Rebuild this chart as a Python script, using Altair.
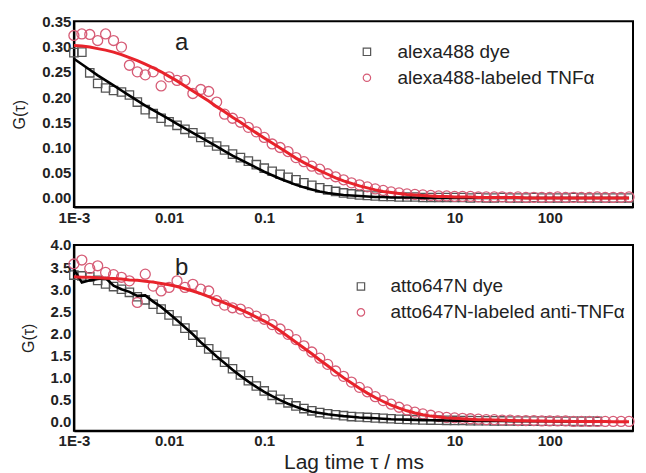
import altair as alt
import pandas as pd

# Lag times (ms), quasi-logarithmic correlator channels
tau = [0.001, 0.001212, 0.001468, 0.001778, 0.002154, 0.00261, 0.003162, 0.003831, 0.004642, 0.005623, 0.006813, 0.008254,
       0.01, 0.01212, 0.01468, 0.01778, 0.02154, 0.0261, 0.03162, 0.03831, 0.04642, 0.05623, 0.06813, 0.08254,
       0.1, 0.1212, 0.1468, 0.1778, 0.2154, 0.261, 0.3162, 0.3831, 0.4642, 0.5623, 0.6813, 0.8254,
       1.0, 1.212, 1.468, 1.778, 2.154, 2.61, 3.162, 3.831, 4.642, 5.623, 6.813, 8.254,
       10.0, 12.12, 14.68, 17.78, 21.54, 26.1, 31.62, 38.31, 46.42, 56.23, 68.13, 82.54,
       100.0, 121.2, 146.8, 177.8, 215.4, 261.0, 316.2, 383.1, 464.2, 562.3, 681.3]

# Panel a
a_dye_pts = [0.288, 0.289, 0.248, 0.227, 0.218, 0.213, 0.210, 0.204, 0.190, 0.175, 0.167, 0.158,
             0.151, 0.144, 0.136, 0.129, 0.120, 0.111, 0.103, 0.095, 0.087, 0.080, 0.073, 0.066,
             0.059, 0.053, 0.047, 0.041, 0.036, 0.030, 0.025, 0.020, 0.016, 0.013, 0.010, 0.008,
             0.006, 0.005, 0.004, 0.003, 0.003, 0.002, 0.002, 0.002, 0.001, 0.001, 0.001, 0.001,
             0.001, 0.001, 0.000, 0.001, 0.000, 0.000, 0.001, 0.000, 0.000, 0.000, 0.001, 0.000,
             0.000, 0.000, 0.000, 0.001, 0.000, 0.000, 0.000, 0.000, 0.000, 0.000, 0.000]
a_dye_fit = [0.276, 0.265, 0.254, 0.243, 0.233, 0.223, 0.213, 0.203, 0.193, 0.183, 0.174, 0.165,
             0.156, 0.147, 0.138, 0.129, 0.120, 0.111, 0.102, 0.093, 0.084, 0.076, 0.068, 0.060,
             0.052, 0.045, 0.038, 0.032, 0.026, 0.021, 0.017, 0.013, 0.010, 0.008, 0.006, 0.005,
             0.004, 0.003, 0.002, 0.002, 0.001, 0.001, 0.001, 0.001, 0.000, 0.000, 0.000, 0.000,
             0.000, 0.000, 0.000, 0.000, 0.000, 0.000, 0.000, 0.000, 0.000, 0.000, 0.000, 0.000,
             0.000, 0.000, 0.000, 0.000, 0.000, 0.000, 0.000, 0.000, 0.000, 0.000, 0.000]
a_tnf_pts = [0.322, 0.325, 0.324, 0.312, 0.325, 0.312, 0.299, 0.263, 0.250, 0.244, 0.250, 0.222,
             0.240, 0.233, 0.233, 0.207, 0.215, 0.211, 0.190, 0.166, 0.158, 0.150, 0.140, 0.131,
             0.120, 0.107, 0.100, 0.092, 0.080, 0.072, 0.063, 0.057, 0.048, 0.042, 0.036, 0.030,
             0.026, 0.022, 0.018, 0.015, 0.012, 0.010, 0.008, 0.007, 0.006, 0.005, 0.004, 0.004,
             0.003, 0.003, 0.003, 0.002, 0.002, 0.002, 0.002, 0.001, 0.002, 0.001, 0.001, 0.001,
             0.001, 0.002, 0.001, 0.001, 0.001, 0.001, 0.002, 0.001, 0.001, 0.001, 0.002]
a_tnf_fit = [0.302, 0.301, 0.299, 0.296, 0.293, 0.289, 0.284, 0.278, 0.272, 0.265, 0.258, 0.250,
             0.241, 0.232, 0.222, 0.212, 0.202, 0.192, 0.181, 0.171, 0.160, 0.150, 0.139, 0.129,
             0.119, 0.109, 0.099, 0.089, 0.079, 0.070, 0.062, 0.054, 0.047, 0.040, 0.034, 0.029,
             0.024, 0.020, 0.016, 0.013, 0.011, 0.009, 0.007, 0.006, 0.005, 0.004, 0.003, 0.003,
             0.002, 0.002, 0.002, 0.001, 0.001, 0.001, 0.001, 0.001, 0.001, 0.000, 0.000, 0.000,
             0.000, 0.000, 0.000, 0.000, 0.000, 0.000, 0.000, 0.000, 0.000, 0.000, 0.000]

# Panel b (dye data stop at ~316 ms)
b_dye_pts = [3.32, 3.30, 3.28, 3.20, 3.12, 3.06, 3.00, 2.93, 2.83, 2.76, 2.66, 2.55,
             2.42, 2.28, 2.12, 1.96, 1.80, 1.65, 1.50, 1.35, 1.20, 1.06, 0.93, 0.81,
             0.70, 0.60, 0.51, 0.43, 0.36, 0.30, 0.25, 0.21, 0.18, 0.16, 0.14, 0.12,
             0.11, 0.10, 0.09, 0.08, 0.07, 0.06, 0.055, 0.05, 0.045, 0.04, 0.038, 0.035,
             0.032, 0.03, 0.028, 0.026, 0.024, 0.022, 0.021, 0.02, 0.019, 0.018, 0.017, 0.016,
             0.015, 0.014, 0.013, 0.012, 0.012, 0.011, 0.010]
b_dye_line = [3.45, 3.15, 3.20, 3.23, 3.25, 3.08, 3.00, 2.94, 2.85, 2.86, 2.72, 2.60,
              2.45, 2.30, 2.14, 1.98, 1.80, 1.64, 1.48, 1.33, 1.18, 1.04, 0.91, 0.79,
              0.68, 0.58, 0.49, 0.41, 0.34, 0.28, 0.23, 0.20, 0.17, 0.15, 0.13, 0.115,
              0.10, 0.09, 0.08, 0.07, 0.06, 0.055, 0.05, 0.045, 0.04, 0.037, 0.034, 0.031,
              0.028, 0.026, 0.024, 0.022, 0.020, 0.019, 0.018, 0.017, 0.016, 0.015, 0.014, 0.013,
              0.012, 0.011, 0.010, 0.010, 0.009, 0.009, 0.008]
b_anti_pts = [3.57, 3.66, 3.47, 3.53, 3.38, 3.33, 3.27, 3.19, 2.70, 3.34, 3.07, 2.96,
              3.04, 3.19, 3.04, 3.11, 3.00, 2.96, 2.74, 2.64, 2.58, 2.55, 2.47, 2.39,
              2.32, 2.20, 2.10, 1.98, 1.86, 1.72, 1.58, 1.44, 1.30, 1.15, 1.03, 0.90,
              0.78, 0.68, 0.57, 0.48, 0.40, 0.33, 0.27, 0.22, 0.18, 0.15, 0.12, 0.10,
              0.09, 0.08, 0.07, 0.06, 0.05, 0.05, 0.04, 0.04, 0.03, 0.03, 0.03, 0.02,
              0.02, 0.02, 0.02, 0.01, 0.01, 0.01, 0.01, 0.01, 0.01, 0.01, 0.01]
b_anti_fit = [3.28, 3.27, 3.27, 3.26, 3.25, 3.24, 3.23, 3.21, 3.20, 3.18, 3.16, 3.13,
              3.10, 3.06, 3.01, 2.96, 2.90, 2.83, 2.76, 2.69, 2.62, 2.54, 2.46, 2.37,
              2.28, 2.18, 2.06, 1.93, 1.80, 1.67, 1.54, 1.40, 1.27, 1.13, 1.00, 0.88,
              0.76, 0.65, 0.55, 0.46, 0.38, 0.31, 0.25, 0.20, 0.16, 0.13, 0.11, 0.09,
              0.08, 0.07, 0.06, 0.05, 0.045, 0.04, 0.035, 0.03, 0.027, 0.024, 0.021, 0.018,
              0.016, 0.014, 0.012, 0.010, 0.009, 0.008, 0.007, 0.006, 0.005, 0.004, 0.003]

x_ticks = [0.001, 0.01, 0.1, 1, 10, 100]
a_yticks = [0.0, 0.05, 0.1, 0.15, 0.2, 0.25, 0.3, 0.35]
b_yticks = [0.0, 0.5, 1.0, 1.5, 2.0, 2.5, 3.0, 3.5, 4.0]

a_labels = ["alexa488 dye", "alexa488-labeled TNF\u03b1"]
b_labels = ["\u00a0atto647N dye", "atto647N-labeled anti-TNF\u03b1"]

FONT = "Liberation Sans"
GRAY = "#555555"
PINK = "#d65c76"
RED = "#e8232b"
W, H = 560, 186


def panel(dye_pts, dye_line, lab_pts, lab_fit, labels, ydom, yticks, yfmt, letter,
          xtitle, legx, legy, laboff, lbl_y):
    n_dye = len(dye_pts)
    dye_df = pd.DataFrame({"tau": tau[:n_dye], "G": dye_pts, "series": labels[0]})
    lab_df = pd.DataFrame({"tau": tau, "G": lab_pts, "series": labels[1]})
    dline = pd.DataFrame({"tau": tau[:len(dye_line)], "G": dye_line})
    lfit = pd.DataFrame({"tau": tau, "G": lab_fit})

    xenc = alt.X("tau:Q", scale=alt.Scale(type="log", domain=[0.001, 750], nice=False),
                 axis=alt.Axis(values=x_ticks, format="~g",
                               labelExpr="datum.value < 0.005 ? '1E-3' : datum.label",
                               ticks=False, labelPadding=3, labelFontSize=15,
                               labelFontWeight="bold", labelFont=FONT, labelColor="#222",
                               titleFont=FONT, titleFontSize=21, titleFontWeight="normal",
                               titleColor="#222", titlePadding=3, grid=False,
                               domainColor="black", domainWidth=2, labelFlush=False,
                               labelOverlap=False),
                 title=xtitle)
    yenc = alt.Y("G:Q", scale=alt.Scale(domain=ydom, nice=False, zero=False),
                 axis=alt.Axis(values=yticks, format=yfmt, ticks=False, labelPadding=3,
                               labelFontSize=15, labelFontWeight="bold", labelFont=FONT,
                               labelColor="#222", titleFont=FONT, titleFontSize=16,
                               titleFontWeight="normal", titleColor="#222", titlePadding=14,
                               grid=False, domainColor="black", domainWidth=2,
                               labelOverlap=False, labelFlush=False),
                 title="G(\u03c4)")

    leg = alt.Legend(title=None, orient="none", legendX=legx, legendY=legy,
                     labelFont=FONT, labelFontSize=19, labelColor="#222",
                     symbolSize=55, symbolStrokeWidth=1.2, symbolFillColor="transparent",
                     labelOffset=laboff, rowPadding=6, labelLimit=400)
    shp = alt.Shape("series:N", scale=alt.Scale(domain=labels, range=["square", "circle"]),
                    legend=leg)
    stk = alt.Stroke("series:N", scale=alt.Scale(domain=labels, range=[GRAY, PINK]), legend=leg)

    sq = alt.Chart(dye_df).mark_point(filled=False, strokeWidth=1.3, size=70, opacity=1,
                                      clip=False).encode(x=xenc, y=yenc, shape=shp, stroke=stk)
    ci = alt.Chart(lab_df).mark_point(filled=False, strokeWidth=1.3, size=100, opacity=1,
                                      clip=False).encode(x=xenc, y=yenc, shape=shp, stroke=stk)
    black = alt.Chart(dline).mark_line(color="black", strokeWidth=2.6).encode(x=xenc, y=yenc)
    red = alt.Chart(lfit).mark_line(color=RED, strokeWidth=3).encode(x=xenc, y=yenc)
    lbl = alt.Chart(pd.DataFrame({"t": [letter]})).mark_text(
        font=FONT, fontSize=24, color="#222", align="center", baseline="middle"
    ).encode(text="t:N", x=alt.value(108), y=alt.value(lbl_y))

    return alt.layer(sq, ci, black, red, lbl).properties(width=W, height=H)


pa = panel(a_dye_pts, a_dye_fit, a_tnf_pts, a_tnf_fit, a_labels, [-0.018, 0.35], a_yticks,
           ".2f", "a", None, 284, 21, 21, 22)
pb = panel(b_dye_pts, b_dye_line, b_anti_pts, b_anti_fit, b_labels, [-0.2, 4.0], b_yticks,
           ".1f", "b", "Lag time \u03c4 / ms", 278, 32, 20, 23)

chart = alt.vconcat(pa, pb, spacing=11).resolve_scale(
    shape="independent", stroke="independent", y="independent"
).resolve_legend(shape="independent", stroke="independent").configure(
    padding={"left": 2, "top": 5, "right": 0, "bottom": 0}
).configure_view(stroke="black", strokeWidth=2)

chart.save("out.html", embed_options={"renderer": "svg", "actions": False})
